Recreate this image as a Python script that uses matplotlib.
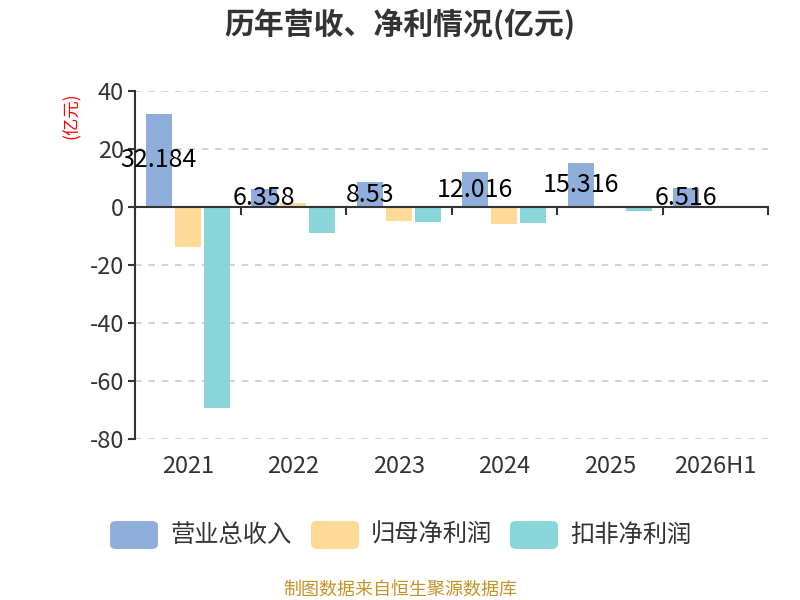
import numpy as np
import matplotlib.pyplot as plt
from matplotlib.patches import FancyBboxPatch

plt.rcParams['font.family'] = ['Noto Sans CJK SC', 'DejaVu Sans']
plt.rcParams['axes.unicode_minus'] = False

years = ['2021', '2022', '2023', '2024', '2025', '2026H1']
revenue = [32.184, 6.358, 8.53, 12.016, 15.316, 6.516]
net_profit = [-13.7, 1.5, -4.7, -6.0, -0.3, 0.3]
deducted_profit = [-69.4, -9.0, -5.0, -5.5, -1.3, -0.3]
series_names = ['营业总收入', '归母净利润', '扣非净利润']
colors = ['#8FAEDC', '#FFD996', '#88D6DA']

fig = plt.figure(figsize=(8, 6), dpi=100)
ax = fig.add_axes([0.16875, 0.2683, 0.79125, 0.58])

x = np.arange(len(years))
w = 0.246
step = 0.275
ax.bar(x - step, revenue, w, color=colors[0], zorder=3)
ax.bar(x, net_profit, w, color=colors[1], zorder=3)
ax.bar(x + step, deducted_profit, w, color=colors[2], zorder=3)

for xi, v in zip(x, revenue):
    ax.text(xi - step, v / 2, f'{v:g}', ha='center', va='center',
            fontsize=18, color='black', zorder=5)

ax.set_xlim(-0.5, len(years) - 0.5)
ax.set_ylim(-80, 40)
ax.set_yticks(np.arange(-80, 41, 20))
ax.tick_params(axis='y', labelsize=17, colors='#333333', length=5, width=1.5, pad=3)

ax.grid(axis='y', color='#cccccc', linestyle=(0, (4, 4)), linewidth=1.2, zorder=0)

# x axis at zero, category ticks at boundaries, labels at the bottom
ax.spines['bottom'].set_position(('data', 0))
ax.spines['bottom'].set_color('#333333')
ax.spines['bottom'].set_linewidth(1.5)
ax.spines['bottom'].set_zorder(4)
ax.set_xticks(np.arange(-0.5, len(years)))
ax.set_xticklabels([])
ax.tick_params(axis='x', length=6, width=1.5, colors='#333333', direction='out')
for xi, yr in zip(x, years):
    ax.text(xi, -0.078, yr, transform=ax.get_xaxis_transform(), ha='center',
            va='center', fontsize=17, color='#333333')

ax.spines['left'].set_color('#333333')
ax.spines['left'].set_linewidth(1.5)
ax.spines['top'].set_visible(False)
ax.spines['right'].set_visible(False)

fig.text(0.5, 0.96, '历年营收、净利情况(亿元)', ha='center', va='center',
         fontsize=21.5, fontweight='bold', color='#333333')
fig.text(0.09, 0.808, '(亿元)', rotation=90, ha='center', va='center',
         fontsize=12.5, color='red')

# legend
leg_x = [110, 311, 510]
for lx, name, c in zip(leg_x, series_names, colors):
    patch = FancyBboxPatch((lx / 800, 1 - 549 / 600), 48 / 800, 28 / 600,
                           boxstyle='round,pad=0,rounding_size=0.008',
                           transform=fig.transFigure, facecolor=c,
                           edgecolor='none')
    fig.patches.append(patch)
    fig.text((lx + 60) / 800, 1 - 535 / 600, name, ha='left', va='center',
             fontsize=17.5, color='#333333')

fig.text(0.5, 1 - 590 / 600, '制图数据来自恒生聚源数据库', ha='center', va='center',
         fontsize=13, color='#C8922A')

fig.savefig('out.png', dpi=100)
